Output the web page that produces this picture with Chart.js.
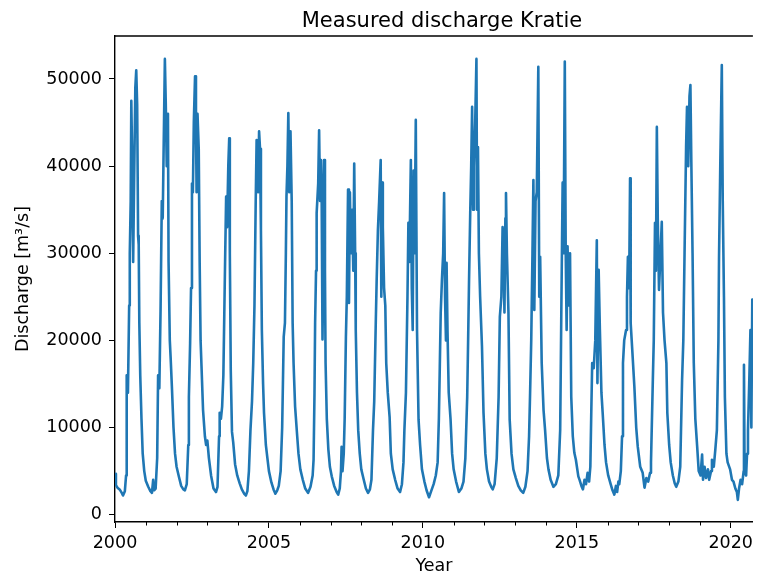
<!DOCTYPE html>
<html>
<head>
<meta charset="utf-8">
<script src="https://cdn.jsdelivr.net/npm/chart.js@4/dist/chart.umd.min.js"></script>
<style>
  html, body { margin: 0; padding: 0; background: #fff; overflow: hidden; }
  #wrap { width: 758px; height: 577px; }
</style>
</head>
<body>
<div id="wrap"><canvas id="chart" width="758" height="577"></canvas></div>
<script>
// decimal year of each reading
const time = [
  2000.00, 2000.03, 2000.08, 2000.15, 2000.22, 2000.26, 2000.32, 2000.36, 2000.38, 2000.42,
  2000.46, 2000.48, 2000.51, 2000.53, 2000.56, 2000.59, 2000.62, 2000.66, 2000.69, 2000.72,
  2000.75, 2000.77, 2000.79, 2000.82, 2000.86, 2000.90, 2000.95, 2001.00, 2001.08, 2001.15,
  2001.20, 2001.24, 2001.27, 2001.32, 2001.37, 2001.40, 2001.44, 2001.48, 2001.52, 2001.55,
  2001.58, 2001.62, 2001.65, 2001.68, 2001.72, 2001.74, 2001.78, 2001.81, 2001.85, 2001.90,
  2001.95, 2002.00, 2002.08, 2002.15, 2002.22, 2002.27, 2002.33, 2002.38, 2002.40, 2002.44,
  2002.47, 2002.50, 2002.53, 2002.56, 2002.60, 2002.63, 2002.65, 2002.68, 2002.72, 2002.75,
  2002.78, 2002.81, 2002.86, 2002.92, 2002.96, 2003.00, 2003.05, 2003.12, 2003.20, 2003.28,
  2003.33, 2003.38, 2003.40, 2003.44, 2003.48, 2003.52, 2003.55, 2003.58, 2003.61, 2003.64,
  2003.68, 2003.71, 2003.73, 2003.76, 2003.80, 2003.84, 2003.90, 2003.97, 2004.05, 2004.12,
  2004.20, 2004.25, 2004.30, 2004.35, 2004.40, 2004.45, 2004.49, 2004.53, 2004.57, 2004.60,
  2004.62, 2004.65, 2004.68, 2004.71, 2004.74, 2004.77, 2004.81, 2004.84, 2004.90, 2004.95,
  2005.00, 2005.08, 2005.15, 2005.21, 2005.27, 2005.32, 2005.38, 2005.43, 2005.48, 2005.52,
  2005.55, 2005.57, 2005.60, 2005.63, 2005.66, 2005.70, 2005.74, 2005.77, 2005.80, 2005.85,
  2005.91, 2005.96, 2006.02, 2006.10, 2006.18, 2006.27, 2006.35, 2006.42, 2006.45, 2006.48,
  2006.50, 2006.53, 2006.55, 2006.60, 2006.63, 2006.66, 2006.69, 2006.71, 2006.74, 2006.77,
  2006.79, 2006.82, 2006.84, 2006.88, 2006.93, 2006.98, 2007.04, 2007.12, 2007.20, 2007.25,
  2007.30, 2007.34, 2007.36, 2007.39, 2007.43, 2007.46, 2007.50, 2007.53, 2007.57, 2007.60,
  2007.63, 2007.66, 2007.70, 2007.74, 2007.77, 2007.80, 2007.82, 2007.86, 2007.90, 2007.95,
  2008.00, 2008.08, 2008.15, 2008.22, 2008.28, 2008.33, 2008.38, 2008.42, 2008.47, 2008.50,
  2008.54, 2008.58, 2008.63, 2008.65, 2008.68, 2008.70, 2008.74, 2008.78, 2008.81, 2008.86,
  2008.92, 2008.96, 2009.02, 2009.10, 2009.18, 2009.26, 2009.32, 2009.37, 2009.40, 2009.45,
  2009.50, 2009.53, 2009.56, 2009.61, 2009.64, 2009.67, 2009.70, 2009.73, 2009.77, 2009.79,
  2009.81, 2009.86, 2009.91, 2009.97, 2010.05, 2010.12, 2010.20, 2010.27, 2010.35, 2010.42,
  2010.48, 2010.52, 2010.55, 2010.58, 2010.62, 2010.66, 2010.69, 2010.72, 2010.75, 2010.77,
  2010.80, 2010.84, 2010.90, 2010.95, 2011.00, 2011.08, 2011.17, 2011.25, 2011.32, 2011.38,
  2011.44, 2011.47, 2011.50, 2011.54, 2011.57, 2011.60, 2011.63, 2011.66, 2011.70, 2011.74,
  2011.76, 2011.79, 2011.82, 2011.86, 2011.92, 2011.97, 2012.03, 2012.08, 2012.15, 2012.22,
  2012.27, 2012.33, 2012.40, 2012.46, 2012.50, 2012.55, 2012.59, 2012.62, 2012.65, 2012.68,
  2012.70, 2012.73, 2012.78, 2012.82, 2012.88, 2012.94, 2013.02, 2013.10, 2013.18, 2013.26,
  2013.33, 2013.40, 2013.45, 2013.48, 2013.52, 2013.56, 2013.59, 2013.62, 2013.66, 2013.70,
  2013.75, 2013.78, 2013.81, 2013.86, 2013.92, 2013.97, 2014.03, 2014.08, 2014.15, 2014.24,
  2014.32, 2014.40, 2014.46, 2014.50, 2014.54, 2014.57, 2014.61, 2014.64, 2014.67, 2014.70,
  2014.74, 2014.78, 2014.82, 2014.87, 2014.92, 2014.97, 2015.05, 2015.09, 2015.15, 2015.20,
  2015.25, 2015.30, 2015.35, 2015.40, 2015.44, 2015.47, 2015.50, 2015.55, 2015.60, 2015.65,
  2015.67, 2015.71, 2015.75, 2015.80, 2015.84, 2015.90, 2015.95, 2016.02, 2016.10, 2016.16,
  2016.22, 2016.27, 2016.31, 2016.35, 2016.38, 2016.43, 2016.47, 2016.50, 2016.54, 2016.60,
  2016.63, 2016.66, 2016.70, 2016.73, 2016.75, 2016.80, 2016.87, 2016.93, 2016.98, 2017.06,
  2017.14, 2017.20, 2017.26, 2017.32, 2017.38, 2017.41, 2017.47, 2017.50, 2017.54, 2017.57,
  2017.60, 2017.63, 2017.67, 2017.72, 2017.76, 2017.80, 2017.85, 2017.91, 2017.94, 2018.00,
  2018.05, 2018.12, 2018.18, 2018.23, 2018.30, 2018.36, 2018.42, 2018.46, 2018.50, 2018.55,
  2018.58, 2018.62, 2018.66, 2018.69, 2018.72, 2018.76, 2018.80, 2018.85, 2018.91, 2018.96,
  2019.02, 2019.07, 2019.10, 2019.15, 2019.20, 2019.26, 2019.30, 2019.36, 2019.39, 2019.45,
  2019.50, 2019.55, 2019.60, 2019.62, 2019.66, 2019.71, 2019.74, 2019.78, 2019.81, 2019.86,
  2019.90, 2019.98, 2020.04, 2020.09, 2020.15, 2020.20, 2020.23, 2020.27, 2020.32, 2020.37,
  2020.42, 2020.43, 2020.45, 2020.50, 2020.53, 2020.56, 2020.60, 2020.64, 2020.67, 2020.70,
  2020.72
];

// discharge in m3/s at each reading
const discharge = [
  4700, 3400, 3100, 2900, 2500, 2200, 2700, 4500, 16000, 14000,
  24000, 30000, 36000, 47500, 40000, 29000, 38000, 49000, 51000, 47000,
  32000, 31000, 22000, 16000, 11000, 7000, 5000, 3900, 3200, 2700,
  2500, 4000, 2800, 3000, 6500, 16000, 14500, 23500, 36000, 34000,
  42000, 52300, 47000, 40000, 46000, 29000, 20000, 17800, 14500, 10000,
  7000, 5500, 4300, 3300, 2900, 2800, 3500, 8000, 13500, 19700,
  26000, 38000, 37000, 45000, 50300, 45000, 37000, 46000, 42000, 29000,
  20000, 17000, 12000, 9000, 8000, 8500, 6500, 4500, 3000, 2600,
  3200, 9000, 11700, 11000, 12400, 16000, 23000, 30000, 36500, 33000,
  40000, 43200, 30000, 16600, 9500, 8300, 5800, 4500, 3600, 2900,
  2400, 2200, 2700, 5000, 9700, 13000, 17400, 24000, 35800, 43000,
  40000, 37000, 44000, 42000, 32700, 21200, 15000, 11700, 8000, 6500,
  5000, 3700, 2900, 2400, 2800, 3300, 5000, 10000, 20400, 22000,
  30000, 36500, 40000, 46100, 37000, 44000, 36000, 22000, 17400, 12400,
  9400, 7000, 5200, 4000, 3000, 2500, 3200, 4500, 6300, 14000,
  22000, 28000, 34600, 38000, 44100, 36000, 40700, 38000, 20100, 30000,
  40700, 28000, 17400, 11000, 7500, 5500, 4400, 3300, 2600, 2300,
  3000, 5000, 7800, 5000, 7000, 11000, 20400, 25000, 37300, 24300,
  37000, 30000, 35000, 28000, 40300, 30000, 21200, 14000, 9700, 7000,
  5200, 4000, 3000, 2500, 2900, 4000, 9700, 13000, 22000, 27000,
  32700, 36000, 40700, 25000, 38100, 33000, 26000, 24000, 17400, 14000,
  11200, 7000, 5200, 4000, 3000, 2600, 3500, 6000, 9700, 14000,
  25000, 33500, 29000, 40700, 26000, 21200, 39500, 30000, 45300, 33000,
  21200, 10900, 8000, 5200, 3800, 2800, 2000, 2700, 3500, 4500,
  6000, 11000, 17000, 23200, 27000, 30000, 36900, 25000, 20000, 28900,
  21200, 14000, 10900, 7000, 5200, 3800, 2600, 3000, 3800, 6500,
  13500, 20000, 26900, 35000, 40000, 46800, 35000, 40000, 45000, 52300,
  35000, 42200, 30000, 25000, 19300, 11700, 7000, 5200, 3800, 3200,
  2900, 3500, 6500, 13500, 22700, 25000, 33000, 30000, 23200, 34000,
  36900, 30000, 23200, 10900, 7000, 5200, 4200, 3300, 2800, 2500,
  3200, 5000, 9000, 13500, 20000, 30000, 38400, 23500, 36000, 37000,
  51400, 25000, 29600, 17400, 12000, 9700, 6500, 5200, 4000, 3200,
  3500, 4500, 9700, 24300, 38100, 30000, 52000, 30000, 21200, 30800,
  24000, 30000, 13500, 9000, 7100, 6300, 4400, 4000, 3300, 2900,
  4000, 3500, 4800, 3800, 5500, 11700, 17400, 16800, 20000, 31500,
  15100, 28100, 21200, 14000, 11700, 8000, 6000, 4500, 3500, 2800,
  2300, 3300, 2600, 3800, 3500, 5000, 9000, 17400, 20000, 21200,
  25000, 29600, 26000, 38600, 22000, 19000, 14700, 10000, 7800, 5500,
  4800, 3100, 4200, 3800, 4800, 6000, 15500, 20000, 33500, 28000,
  44500, 34000, 25800, 30000, 33600, 23200, 20000, 17400, 11700, 8000,
  6000, 4500, 3600, 3200, 3800, 5500, 15500, 20000, 30000, 42200,
  46800, 40000, 48000, 49300, 40500, 30000, 17400, 11000, 7800, 5000,
  4500, 6900, 4000, 5500, 4200, 5200, 4000, 5000, 6300, 5500,
  7500, 9700, 20000, 29600, 40000, 51600, 36100, 25000, 13500, 7000,
  6000, 5200, 4000, 3800, 3000, 2600, 1700, 3000, 4000, 3500,
  5000, 17200, 5000, 4500, 7000, 9700, 15000, 21200, 10000, 24700,
  22000
];

const yTicks = [0, 10000, 20000, 30000, 40000, 50000];
const xLabelYears = [2000, 2005, 2010, 2015, 2020];

const font = "'DejaVu Sans', sans-serif";

const framePlugin = {
  id: "frame",
  afterDraw(chart) {
    const { ctx, chartArea } = chart;
    const xs = chart.scales.x;
    ctx.save();
    ctx.strokeStyle = "#000";
    ctx.lineWidth = 1.4;
    ctx.beginPath();
    ctx.moveTo(chartArea.left, chartArea.top);
    ctx.lineTo(chartArea.right, chartArea.top);
    ctx.stroke();
    // minor year ticks
    ctx.lineWidth = 1;
    for (let yr = 2001; yr <= 2020; yr++) {
      if (xLabelYears.includes(yr)) continue;
      const px = Math.round(xs.getPixelForValue(yr)) + 0.5;
      ctx.beginPath();
      ctx.moveTo(px, chartArea.bottom);
      ctx.lineTo(px, chartArea.bottom + 3.5);
      ctx.stroke();
    }
    // title, centred over the full axes (which run past the picture edge)
    ctx.fillStyle = "#000";
    ctx.font = "21px " + font;
    ctx.textAlign = "center";
    ctx.textBaseline = "alphabetic";
    ctx.fillText("Measured discharge Kratie", 442, 27);
    ctx.restore();
  }
};

new Chart(document.getElementById("chart"), {
  type: "line",
  data: {
    datasets: [{
      data: time.map((t, i) => ({ x: t, y: discharge[i] })),
      borderColor: "#1f77b4",
      borderWidth: 2.6,
      borderJoinStyle: "round",
      pointRadius: 0,
      tension: 0,
      fill: false
    }]
  },
  options: {
    responsive: false,
    animation: false,
    events: [],
    layout: { padding: { top: 36, left: 0, right: 0, bottom: 0 } },
    plugins: { legend: { display: false }, tooltip: { enabled: false } },
    scales: {
      x: {
        type: "linear",
        min: 2000,
        max: 2020.72,
        afterFit(scale) { scale.height = 55; },
        border: { display: true, color: "#000", width: 1.4 },
        grid: {
          drawOnChartArea: false,
          tickLength: 6,
          tickWidth: 1,
          tickColor: (c) => xLabelYears.includes(c.tick && c.tick.value) ? "#000" : "rgba(0,0,0,0)"
        },
        ticks: {
          stepSize: 1,
          autoSkip: false,
          includeBounds: false,
          maxRotation: 0,
          padding: 5,
          color: "#000",
          font: { family: font, size: 17.5 },
          callback: (v) => xLabelYears.includes(v) ? String(v) : ""
        },
        title: {
          display: true,
          text: "Year",
          color: "#000",
          font: { family: font, size: 17.5 },
          padding: { top: 0, bottom: 0 }
        }
      },
      y: {
        min: -840,
        max: 54930,
        afterFit(scale) { scale.width = 115; },
        afterBuildTicks(scale) { scale.ticks = yTicks.map((v) => ({ value: v })); },
        border: { display: true, color: "#000", width: 1.4 },
        grid: { drawOnChartArea: false, tickLength: 6, tickWidth: 1, tickColor: "#000" },
        ticks: {
          padding: 7,
          color: "#000",
          font: { family: font, size: 17.5 },
          callback: (v) => String(v)
        },
        title: {
          display: true,
          text: "Discharge [m³/s]",
          color: "#000",
          font: { family: font, size: 17.5 },
          padding: { top: 12.5, bottom: 0 }
        }
      }
    }
  },
  plugins: [framePlugin]
});
</script>
</body>
</html>
